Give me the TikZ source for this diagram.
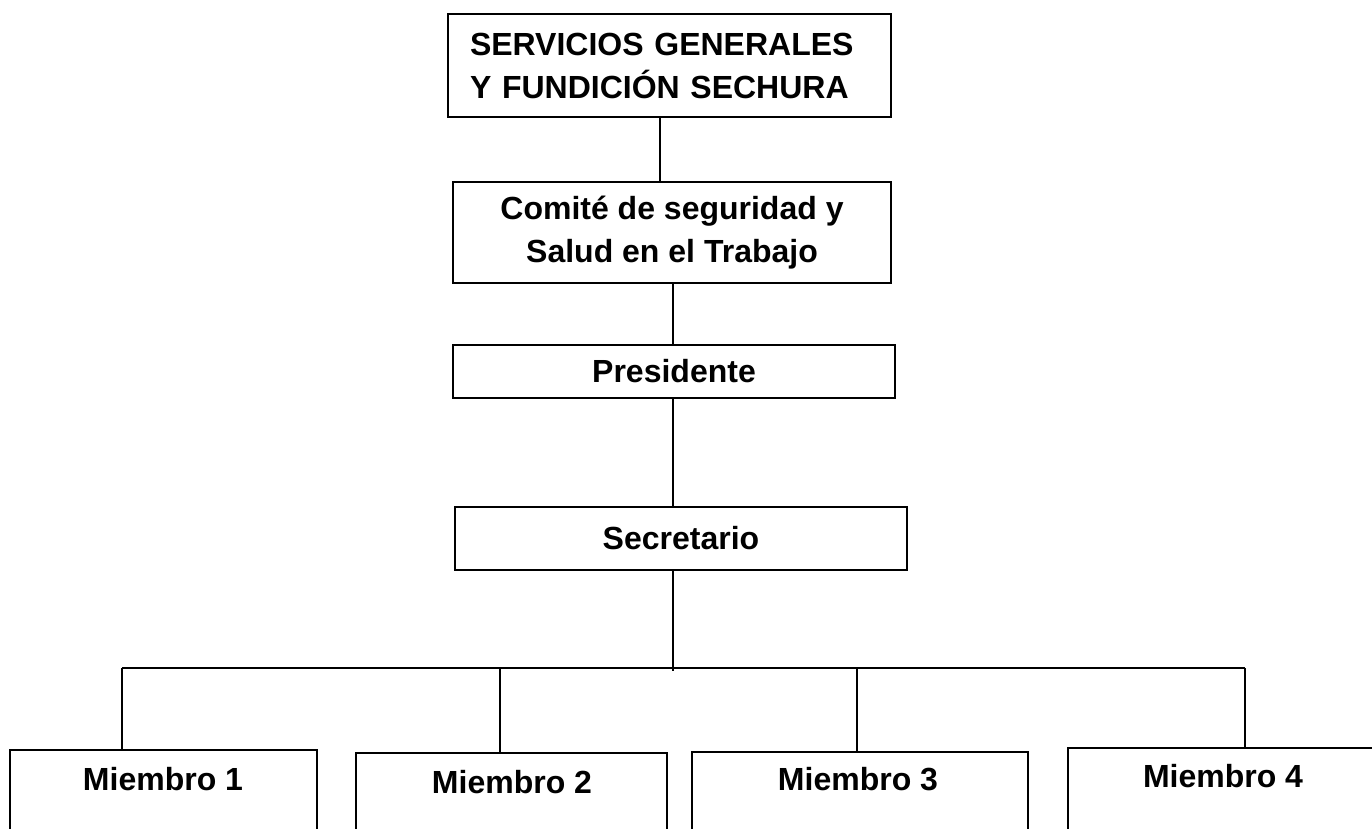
\documentclass[tikz,border=0pt]{standalone}
\usepackage{fontspec}
\setmainfont{Liberation Sans}
\begin{document}
\begin{tikzpicture}[x=1pt,y=-1pt,
  box/.style={draw, line width=2pt, inner sep=0pt, font=\fontsize{32}{43}\selectfont\bfseries},
  conn/.style={line width=1.5pt},
  hconn/.style={line width=2pt},
  lbl/.style={font=\fontsize{32}{43}\selectfont\bfseries, inner sep=0pt}]
\useasboundingbox (0,0) rectangle (1372,828);
% upper chain
\node[box, minimum width=443pt, minimum height=103pt, text width=399pt, align=left] (top) at (669.5,65.5) {SERVICIOS GENERALES\\Y FUNDICIÓN SECHURA};
\node[box, minimum width=438pt, minimum height=101pt, align=center] (com) at (672,232.5) {Comité de seguridad y\\Salud en el Trabajo};
\node[box, minimum width=442pt, minimum height=53pt] (pres) at (674,371.5) {Presidente};
\node[box, minimum width=452pt, minimum height=63pt] (sec) at (681,538.5) {Secretario};
% members
\node[box, minimum width=307pt, minimum height=100pt] (m1) at (163.5,800) {};
\node[lbl] (m1t) at (163,779) {Miembro 1};
\node[box, minimum width=311pt, minimum height=100pt] (m2) at (511.5,803) {};
\node[lbl] (m2t) at (512,782) {Miembro 2};
\node[box, minimum width=336pt, minimum height=100pt] (m3) at (860,802) {};
\node[lbl] (m3t) at (858,779) {Miembro 3};
\node[box, minimum width=340pt, minimum height=100pt] (m4) at (1238,798) {};
\node[lbl] (m4t) at (1223,776) {Miembro 4};
% coordinates
\coordinate (c1) at (660,0);
\coordinate (j0) at (673,671);
\coordinate (hl) at (122,668);
\coordinate (hr) at (1245,668);
\coordinate (d1) at (122,0);
\coordinate (d2) at (500,0);
\coordinate (d3) at (857,0);
\coordinate (d4) at (1245,0);
% connectors
\draw[conn] (top.south -| c1) -- (com.north -| c1);
\draw[conn] (com.south -| j0) -- (pres.north -| j0);
\draw[conn] (pres.south -| j0) -- (sec.north -| j0);
\draw[conn] (sec.south -| j0) -- (j0);
\draw[hconn] (hl) -- (hr);
\draw[conn] (hl) -- (m1.north -| d1);
\draw[conn] (hl -| d2) -- (m2.north -| d2);
\draw[conn] (hl -| d3) -- (m3.north -| d3);
\draw[conn] (hr) -- (m4.north -| d4);
\end{tikzpicture}
\end{document}
